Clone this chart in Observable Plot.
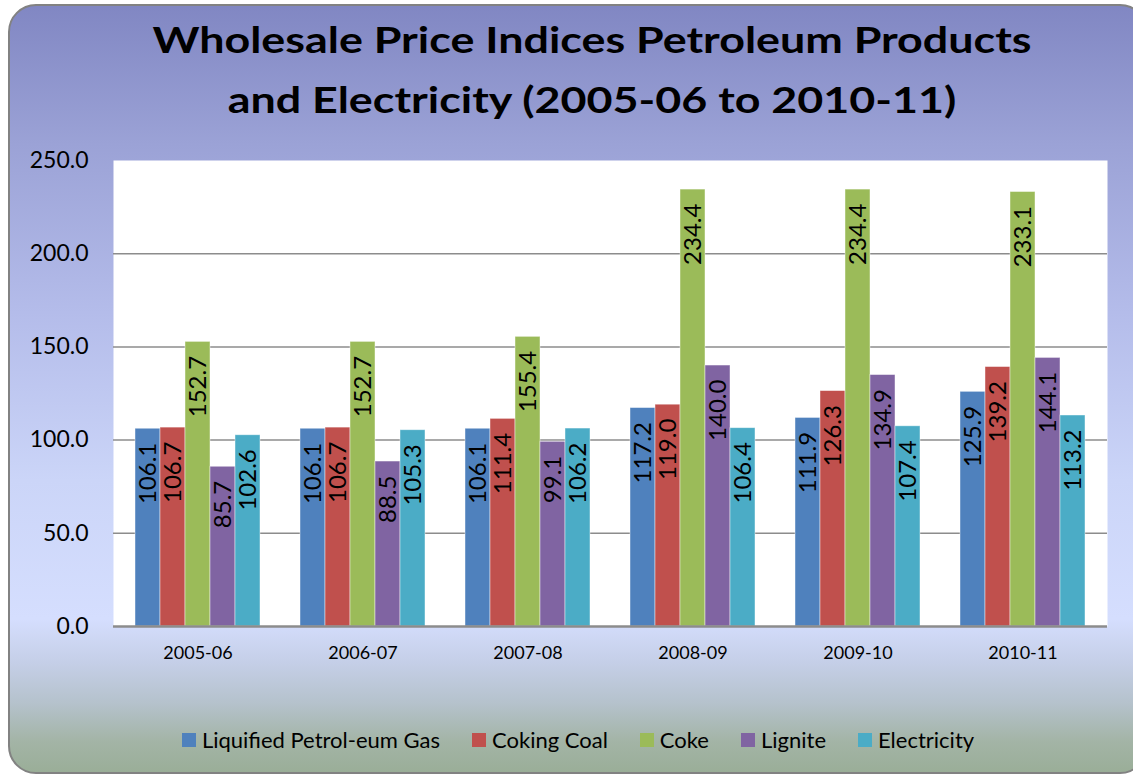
<!DOCTYPE html>
<html>
<head>
<meta charset="utf-8">
<script src="https://cdn.jsdelivr.net/npm/d3@7"></script>
<script src="https://cdn.jsdelivr.net/npm/@observablehq/plot@0.6"></script>
<style>
  html, body { margin: 0; padding: 0; width: 1133px; height: 778px; overflow: hidden; background: #ffffff; }
  #frame {
    position: absolute; left: 8px; top: 4px; width: 1140px; height: 770px;
    border: 2px solid #828282; border-radius: 28px; box-sizing: border-box;
    background: linear-gradient(to bottom, #8187c3 0%, #9ba2d6 18%, #b4bcea 40%, #cbd5f8 62%, #d5defe 80%, #c4cee6 86%, #b5c2cc 91%, #a3b4a6 96%, #9aae98 100%);
  }
  #title {
    position: absolute; left: 0; top: 9px; width: 1184px; text-align: center;
    font-family: Lato, sans-serif; font-weight: 700; font-size: 36px; line-height: 60px; color: #000;
    transform: scaleX(1.245); transform-origin: 592px 0;
  }
  .layer { position: absolute; left: 0; top: 140px; }
  #legend { position: absolute; left: 0; top: 723px; width: 1156px; display: flex; justify-content: center; }
  .lg-swatches { font-family: Lato, sans-serif !important; font-size: 22px !important; color: #000; }
  .lg-swatch { margin-right: 32px !important; }
  .lg-swatch:last-child { margin-right: 0 !important; }
  .lg-swatch > svg { margin-right: 6px !important; }
</style>
</head>
<body>
<div id="frame"></div>
<div id="title">Wholesale Price Indices Petroleum Products<br>and Electricity (2005-06 to 2010-11)</div>
<div id="base" class="layer"></div>
<div id="bars" class="layer"></div>
<div id="legend"></div>
<script>
const years = ["2005-06", "2006-07", "2007-08", "2008-09", "2009-10", "2010-11"];
const series = ["Liquified Petrol-eum Gas", "Coking Coal", "Coke", "Lignite", "Electricity"];
const colors = ["#4f81bd", "#c0504d", "#9bbb59", "#8064a2", "#4bacc6"];
const lpg         = [106.1, 106.1, 106.1, 117.2, 111.9, 125.9];
const cokingCoal  = [106.7, 106.7, 111.4, 119.0, 126.3, 139.2];
const coke        = [152.7, 152.7, 155.4, 234.4, 234.4, 233.1];
const lignite     = [85.7, 88.5, 99.1, 140.0, 134.9, 144.1];
const electricity = [102.6, 105.3, 106.2, 106.4, 107.4, 113.2];
const yTicks = [0, 50, 100, 150, 200, 250];

const valuesBySeries = [lpg, cokingCoal, coke, lignite, electricity];
const data = [];
years.forEach((yr, i) => {
  series.forEach((s, j) => data.push({year: yr, series: s, value: valuesBySeries[j][i]}));
});

const dims = {
  width: 1133, height: 540,
  marginTop: 20, marginBottom: 54, marginLeft: 113, marginRight: 26
};
const groupPad = {paddingInner: 0.23, paddingOuter: 0.115};

// Base layer: white plot area, gridlines, axes
const base = Plot.plot({
  ...dims,
  style: {fontFamily: "Lato, sans-serif", background: "transparent", overflow: "visible", color: "#000"},
  x: {type: "band", domain: years, ...groupPad, label: null},
  y: {domain: [0, 250], label: null},
  marks: [
    Plot.frame({fill: "white", stroke: null}),
    Plot.ruleY(yTicks.filter(d => d > 0 && d < 250), {stroke: "#8c8c8c", strokeWidth: 1.5}),
    Plot.axisX({tickSize: 0, tickPadding: 20, fontSize: 18, label: null}),
    Plot.axisY({ticks: yTicks, tickFormat: d3.format(".1f"), tickSize: 0, tickPadding: 25, fontSize: 23, label: null})
  ]
});
document.getElementById("base").appendChild(base);

// Bar layer: grouped bars with data labels
const bars = Plot.plot({
  ...dims,
  style: {fontFamily: "Lato, sans-serif", background: "transparent", overflow: "visible"},
  fx: {domain: years, ...groupPad, label: null, axis: null},
  x: {domain: series, padding: 0, axis: null},
  y: {domain: [0, 250], axis: null},
  color: {domain: series, range: colors},
  marks: [
    Plot.barY(data, {fx: "year", x: "series", y: "value", fill: "series", stroke: "#ffffff", strokeOpacity: 0.55, strokeWidth: 0.8}),
    Plot.text(data, {fx: "year", x: "series", y: "value", text: d => d.value.toFixed(1), rotate: -90, textAnchor: "end", lineAnchor: "middle", dy: 14, fontSize: 24, fill: "#000"})
  ]
});
document.getElementById("bars").appendChild(bars);

// Baseline drawn over the bars
const axisLine = Plot.plot({
  ...dims,
  style: {background: "transparent", overflow: "visible"},
  y: {domain: [0, 250], axis: null},
  marks: [Plot.ruleY([0], {stroke: "#8c8c8c", strokeWidth: 2.5})]
});
const axisDiv = document.createElement("div");
axisDiv.className = "layer";
axisDiv.appendChild(axisLine);
document.body.appendChild(axisDiv);

const legend = Plot.legend({
  color: {domain: series, range: colors},
  swatchSize: 14,
  className: "lg",
  style: {fontFamily: "Lato, sans-serif", fontSize: "22px"}
});
document.getElementById("legend").appendChild(legend);
</script>
</body>
</html>
